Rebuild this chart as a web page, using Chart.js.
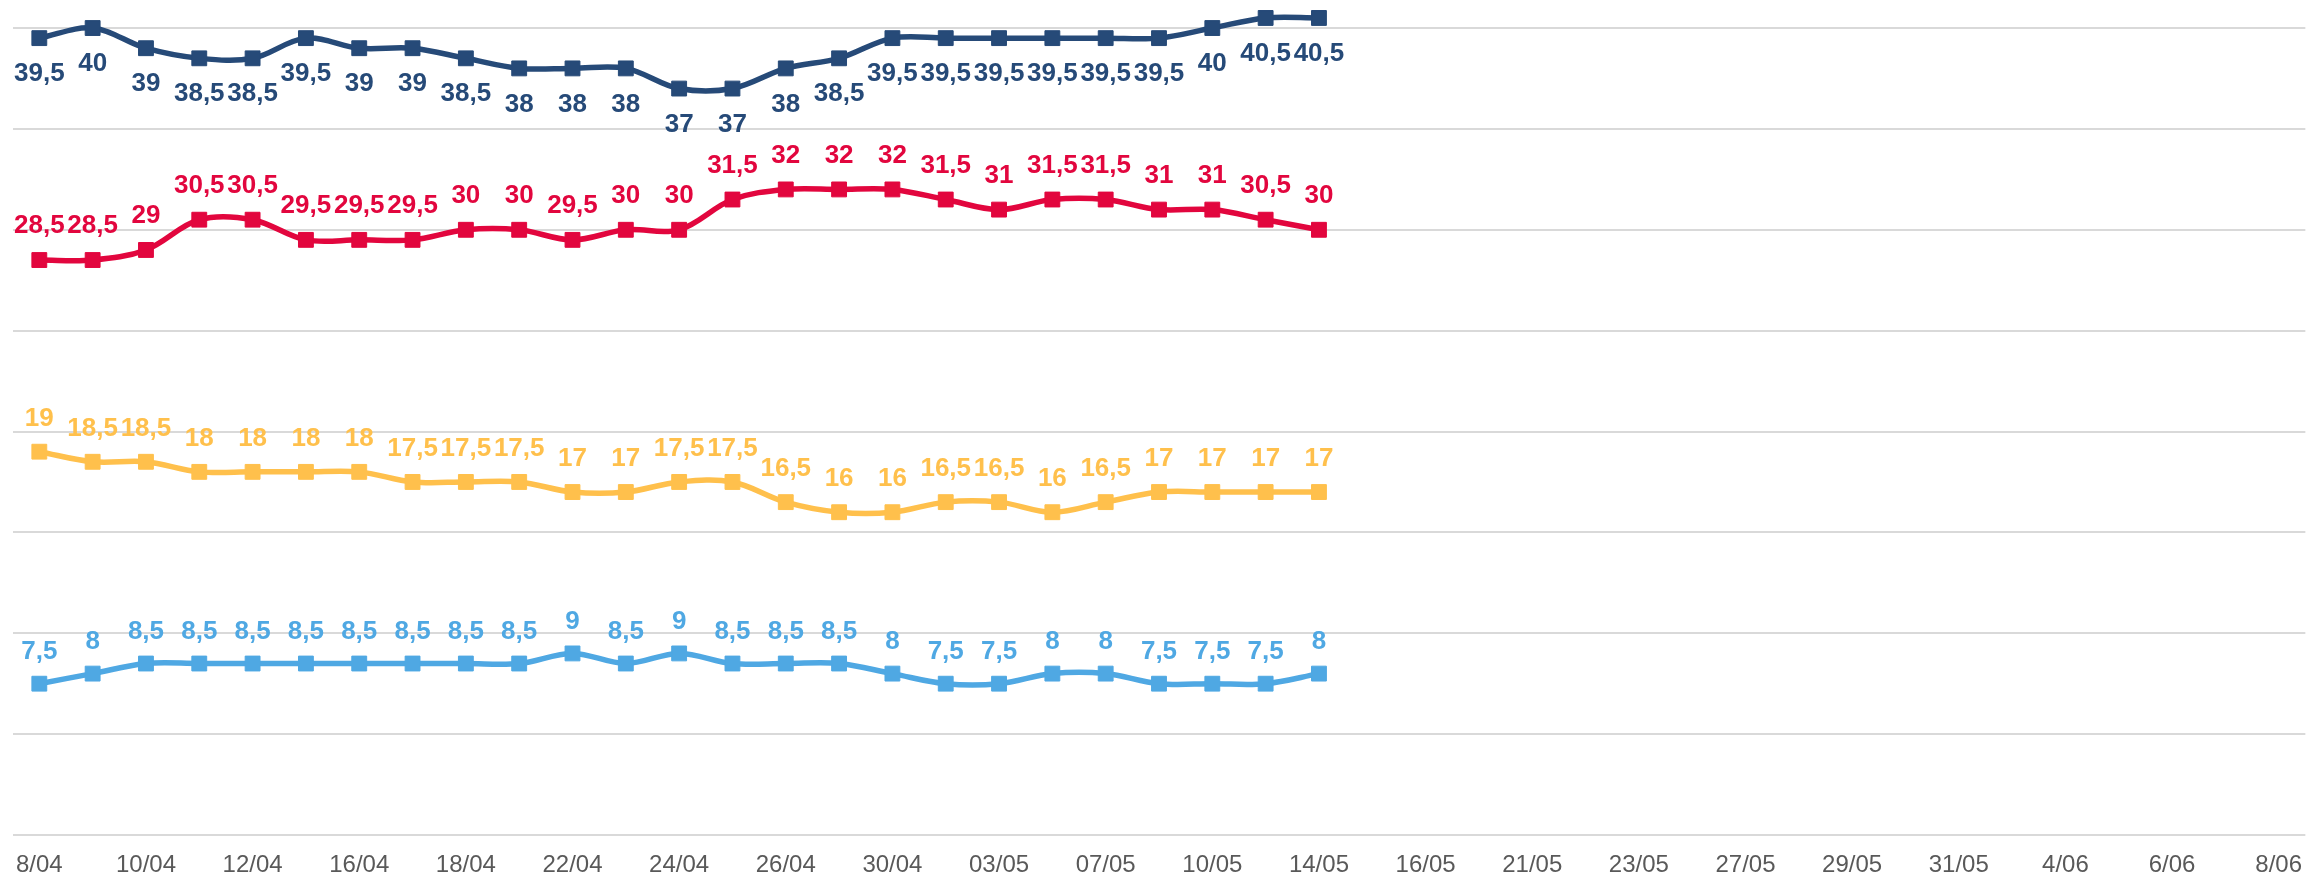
<!DOCTYPE html>
<html>
<head>
<meta charset="utf-8">
<script src="https://cdn.jsdelivr.net/npm/chart.js@4"></script>
<style>
  html, body { margin: 0; padding: 0; background: #fff; }
  #wrap { width: 2318px; height: 880px; position: relative; }
</style>
</head>
<body>
<div id="wrap"><canvas id="chart"></canvas></div>
<script>
// categories (only every other one is labelled on the axis)
const dates = [
  "8/04", "9/04", "10/04", "11/04", "12/04", "15/04", "16/04", "17/04", "18/04", "19/04",
  "22/04", "23/04", "24/04", "25/04", "26/04", "29/04", "30/04", "02/05", "03/05", "06/05",
  "07/05", "09/05", "10/05", "13/05", "14/05", "15/05", "16/05", "20/05", "21/05", "22/05",
  "23/05", "24/05", "27/05", "28/05", "29/05", "30/05", "31/05", "3/06", "4/06", "5/06",
  "6/06", "7/06", "8/06"
];

const navySeries = [39.5, 40, 39, 38.5, 38.5, 39.5, 39, 39, 38.5, 38, 38, 38, 37, 37, 38, 38.5,
  39.5, 39.5, 39.5, 39.5, 39.5, 39.5, 40, 40.5, 40.5];
const redSeries = [28.5, 28.5, 29, 30.5, 30.5, 29.5, 29.5, 29.5, 30, 30, 29.5, 30, 30, 31.5, 32, 32,
  32, 31.5, 31, 31.5, 31.5, 31, 31, 30.5, 30];
const yellowSeries = [19, 18.5, 18.5, 18, 18, 18, 18, 17.5, 17.5, 17.5, 17, 17, 17.5, 17.5, 16.5, 16,
  16, 16.5, 16.5, 16, 16.5, 17, 17, 17, 17];
const blueSeries = [7.5, 8, 8.5, 8.5, 8.5, 8.5, 8.5, 8.5, 8.5, 8.5, 9, 8.5, 9, 8.5, 8.5, 8.5,
  8, 7.5, 7.5, 8, 8, 7.5, 7.5, 7.5, 8];

const yTicks = [0, 5, 10, 15, 20, 25, 30, 35, 40];

// draw value labels (comma decimals) above / below each point
const valueLabels = {
  id: "valueLabels",
  afterDatasetsDraw(chart) {
    const ctx = chart.ctx;
    ctx.save();
    ctx.font = "bold 26px 'Liberation Sans', Arial, sans-serif";
    ctx.textAlign = "center";
    ctx.textBaseline = "middle";
    chart.data.datasets.forEach((ds, i) => {
      const meta = chart.getDatasetMeta(i);
      ctx.fillStyle = ds.borderColor;
      meta.data.forEach((pt, j) => {
        const v = ds.data[j];
        if (v == null) return;
        ctx.fillText(String(v).replace(".", ","), pt.x, pt.y + ds.labelOffset);
      });
    });
    ctx.restore();
  }
};

function series(data, color, labelOffset) {
  return {
    data: data,
    borderColor: color,
    backgroundColor: color,
    borderWidth: 5.5,
    tension: 0.35,
    pointStyle: "rect",
    pointRadius: 10.5,
    pointBorderWidth: 1,
    pointHoverRadius: 10.5,
    labelOffset: labelOffset,
  };
}

new Chart(document.getElementById("chart"), {
  type: "line",
  data: {
    labels: dates,
    datasets: [
      series(navySeries, "#264a78", 36),
      series(redSeries, "#e2063e", -34),
      series(yellowSeries, "#ffc04c", -33),
      series(blueSeries, "#4fa8e3", -32),
    ],
  },
  options: {
    responsive: true,
    maintainAspectRatio: false,
    animation: false,
    layout: { autoPadding: false, padding: { left: 10, right: 0, top: 0, bottom: 0 } },
    plugins: { legend: { display: false }, tooltip: { enabled: false } },
    scales: {
      x: {
        offset: true,
        grid: { display: false, drawTicks: false },
        border: { display: false },
        afterFit: (scale) => { scale.height = 45; },
        ticks: {
          autoSkip: false,
          maxRotation: 0,
          padding: 16,
          color: "#595959",
          font: { family: "'Liberation Sans', Arial, sans-serif", size: 24 },
          callback: (val, idx) => (idx % 2 === 0 ? dates[idx] : ""),
        },
      },
      y: {
        min: 0,
        max: 41.39,
        afterBuildTicks: (scale) => {
          scale.ticks = yTicks.map((v) => ({ value: v }));
        },
        grid: { color: "#d9d9d9", lineWidth: 2, drawTicks: false },
        border: { display: false },
        ticks: { display: false },
      },
    },
  },
  plugins: [valueLabels],
});
</script>
</body>
</html>
